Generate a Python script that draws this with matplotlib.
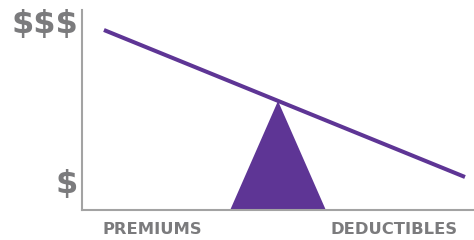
import matplotlib
matplotlib.use("Agg")
import matplotlib.pyplot as plt

# Data (axis units 0-100)
line_x = [5.6, 97.7]
line_y = [90.0, 16.5]
tri_x = [37.8, 50.0, 62.2]
tri_y = [0.0, 54.5, 0.0]
y_labels = ["$", "$$$"]
y_label_pos = [13.0, 93.0]
x_labels = ["PREMIUMS", "DEDUCTIBLES"]
x_label_pos = [17.9, 79.6]

purple = "#5E3595"
gray_text = "#7B7B7D"
gray_axis = "#A3A3A3"

fig = plt.figure(figsize=(4.74, 2.40), dpi=100)
ax = fig.add_axes([82/474, 30/240, 392/474, 200/240])
ax.set_xlim(0, 100)
ax.set_ylim(0, 100)

ax.fill(tri_x, tri_y, color=purple, lw=0, zorder=2)
ax.plot(line_x, line_y, color=purple, lw=2.9, solid_capstyle="butt", zorder=3)

for s in ["top", "right"]:
    ax.spines[s].set_visible(False)
for s in ["left", "bottom"]:
    ax.spines[s].set_color(gray_axis)
    ax.spines[s].set_linewidth(1.5)
ax.set_xticks([])
ax.set_yticks([])

for lab, yp in zip(y_labels, y_label_pos):
    ax.text(-1.0, yp, lab, ha="right", va="center", fontsize=23,
            color=gray_text, family="DejaVu Sans", fontweight="bold",
            transform=ax.transData, clip_on=False)

for lab, xp in zip(x_labels, x_label_pos):
    ax.text(xp, -9.5, lab, ha="center", va="center", fontsize=11.8,
            color=gray_text, family="DejaVu Sans", fontweight="bold",
            transform=ax.transData, clip_on=False)

fig.savefig("out.png", dpi=100)
